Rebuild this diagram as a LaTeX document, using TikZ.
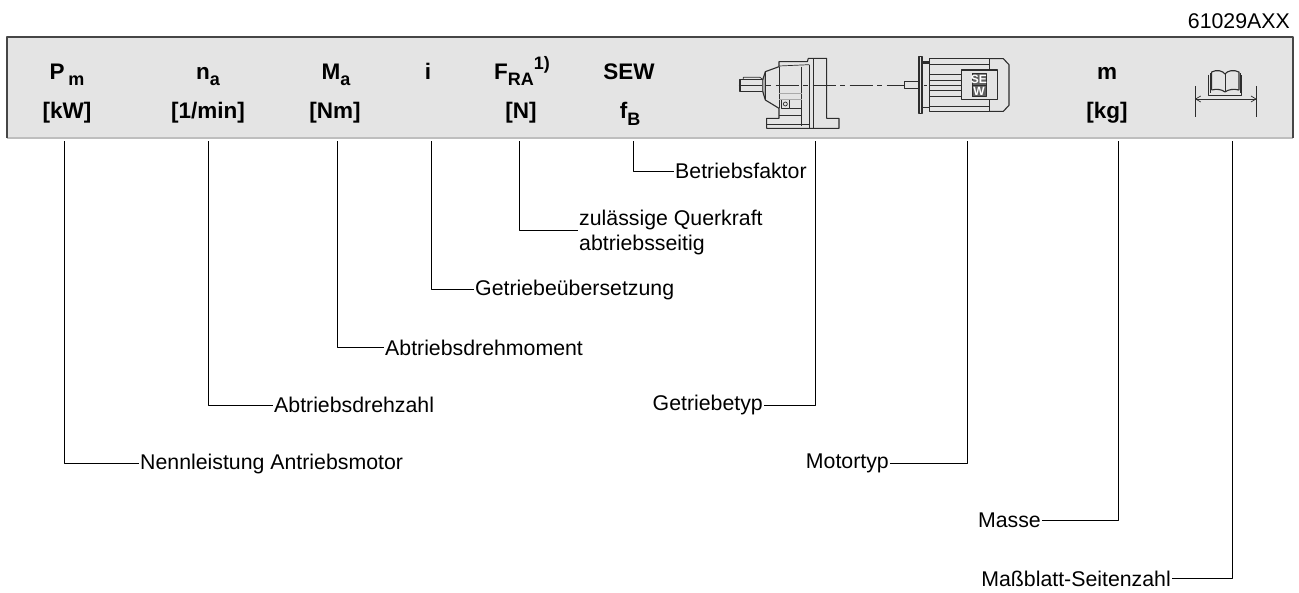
\documentclass[tikz,border=0pt]{standalone}
\usepackage{fontspec}
\setmainfont{Liberation Sans}
\usetikzlibrary{arrows.meta}
\definecolor{bandgrey}{RGB}{228,228,228}
\definecolor{edgedark}{RGB}{70,70,70}
\definecolor{edgelight}{RGB}{190,190,190}
\definecolor{inkgrey}{RGB}{45,45,45}
\definecolor{logogrey}{RGB}{170,170,170}
\newcommand{\hdsub}[1]{\raisebox{-0.31em}{\fontsize{18}{18}\selectfont #1}}
\begin{document}
\begin{tikzpicture}[x=1pt, y=-1pt, line join=bevel]

    \tikzset{
      hd_text/.style    = {inner sep=0pt, font=\fontsize{22.5}{26}\selectfont\bfseries, anchor=base},
      lbl_text/.style   = {inner sep=1pt, font=\fontsize{21.3}{25.5}\selectfont, align=left},
      leader/.style     = {line width=1pt, draw=black},
      part_line/.style  = {line width=1.1pt, draw=inkgrey},
      thin_line/.style  = {line width=0.7pt, draw=inkgrey}
    }

    \useasboundingbox (0,0) rectangle (1299,592);

    % band
    \fill[bandgrey] (7,37) rectangle (1293,138);
    \draw[line width=1.5pt, edgelight] (7,138) -- (1293,138);
    \draw[line width=1.5pt, edgedark] (7,138) -- (7,37) -- (1293,37) -- (1293,138);

    \node[lbl_text, anchor=base east, inner sep=0pt] (code) at (1290,28) {61029AXX};

    % header
    \node[hd_text] (hdPm)  at (67,79)   {P\,\hdsub{m}};
    \node[hd_text] (hdkW)  at (67,118.5)  {[kW]};
    \node[hd_text] (hdna)  at (208,79)  {n\hdsub{a}};
    \node[hd_text] (hdmin) at (208,118.5) {[1/min]};
    \node[hd_text] (hdMa)  at (336,79)  {M\hdsub{a}};
    \node[hd_text] (hdNm)  at (335,118.5) {[Nm]};
    \node[hd_text] (hdi)   at (428,79)  {i};
    \node[hd_text] (hdF)   at (522,79)  {F\hdsub{RA}\raisebox{0.42em}{\fontsize{18}{18}\selectfont 1)}};
    \node[hd_text] (hdN)   at (521,118.5) {[N]};
    \node[hd_text] (hdSEW) at (629,79)  {SEW};
    \node[hd_text] (hdfB)  at (630,118.5) {f\hdsub{B}};
    \node[hd_text] (hdm)   at (1107,79) {m};
    \node[hd_text] (hdkg)  at (1107,118.5){[kg]};

    % gear unit
    \begin{scope}[shift={(720,30)}, x=0.3333pt, y=-0.3333pt]
        \draw[part_line] (60,148) -- (60,184) -- (128,184) -- (128,148) -- cycle;
        \draw[thin_line] (70,148) -- (70,142) -- (120,142) -- (128,148);
        \fill[logogrey] (128,150) -- (136,125) -- (136,208) -- (128,184) -- cycle;
        \draw[part_line] (128,150) -- (136,125) -- (177,110) -- (177,95) -- (262,95) -- (265,85) -- (320,85)
            -- (320,265) -- (357,265) -- (357,295) -- (140,295) -- (140,265) -- (177,265) -- (177,235)
            -- (136,210) -- (128,184);
        \draw[thin_line] (136,125) -- (136,210);
        \draw[thin_line] (177,110) -- (177,235);
        \draw[thin_line] (245,110) -- (245,288);
        \draw[thin_line] (177,108) -- (268,104);
        \draw[part_line] (268,104) -- (268,295);
        \draw[part_line] (280,85) -- (280,295);
        \draw[part_line, logogrey] (177,190) -- (245,190);
        \draw[part_line, logogrey] (177,208) -- (245,208);
        \draw[thin_line] (210,236) -- (245,236);
        \draw[part_line] (177,256) -- (245,256);
        \draw[thin_line] (140,284) -- (268,284);
        \draw[thin_line] (184,210) -- (184,236) -- (208,236) -- (208,210);
        \draw[thin_line] (196,222) circle (6);

        % centre line
        \draw[thin_line, dash pattern=on 23pt off 4.5pt on 5pt off 4.5pt] (56,165) -- (553,165);

        % motor
        \fill[bandgrey] (597,80) rectangle (606,250);
        \draw[part_line] (597,80) rectangle (606,250);
        \draw[part_line] (553,155) rectangle (597,176);
        \draw[part_line] (606,96) -- (628,96) -- (628,244) -- (808,244) -- (808,86) -- (628,86) -- (628,96);
        \draw[part_line] (808,86) -- (850,86) -- (867,104) -- (867,226) -- (850,244) -- (808,244);
        \draw[thin_line] (606,100) -- (628,100);
        \draw[thin_line] (606,232) -- (628,232);
        \draw[thin_line] (628,102) -- (808,102);
        \draw[thin_line] (628,228) -- (808,228);
        \foreach \yline in {132,150,182,200}{
            \draw[thin_line] (628,\yline) -- (724,\yline);
        }
        \draw[thin_line] (628,165) -- (724,165);
        \draw[thin_line] (612,165) -- (622,165);
        \fill[bandgrey] (724,120) rectangle (833,209);
        \draw[part_line] (724,120) rectangle (833,209);
        \draw[thin_line, fill=inkgrey!75] (756,130) rectangle (798,200);
        \draw[thin_line] (756,166) -- (798,166);
        \node[inner sep=0pt, font=\fontsize{12}{12}\selectfont\bfseries, text=white] (logo1) at (777,148) {SE};
        \node[inner sep=0pt, font=\fontsize{12}{12}\selectfont\bfseries, text=white] (logo2) at (777,184) {W};
    \end{scope}

    % book symbol
    \begin{scope}[shift={(1040,0)}, x=0.3333pt, y=-0.3333pt]
        \draw[thin_line] (505,224) -- (505,287) -- (605,287) -- (605,224);
        \draw[thin_line] (510,278) -- (510,220);
        \draw[thin_line] (600,278) -- (600,220);
        \draw[part_line] (515,270) -- (515,216) .. controls (530,208) and (548,212) .. (555,222)
            .. controls (562,212) and (582,208) .. (597,216) -- (597,270)
            .. controls (582,266) and (565,268) .. (555,276)
            .. controls (545,268) and (530,266) .. (515,270);
        \draw[thin_line] (555,222) -- (555,276);
        \draw[thin_line] (465,258) -- (465,350);
        \draw[thin_line] (650,258) -- (650,350);
        \draw[thin_line, {Straight Barb[length=5pt,width=6pt]}-{Straight Barb[length=5pt,width=6pt]}] (465,297) -- (650,297);
    \end{scope}

    % labels
    \node[lbl_text, anchor=west] (lblPm)  at (139,463.5) {Nennleistung Antriebsmotor};
    \node[lbl_text, anchor=west] (lblna)  at (273,405) {Abtriebsdrehzahl};
    \node[lbl_text, anchor=west] (lblMa)  at (384,347.5) {Abtriebsdrehmoment};
    \node[lbl_text, anchor=west] (lbli)   at (474,289.5) {Getriebeübersetzung};
    \node[lbl_text, anchor=west] (lblF)   at (578,232.5) {zulässige Querkraft\\abtriebsseitig};
    \node[lbl_text, anchor=west] (lblfB)  at (674,171) {Betriebsfaktor};
    \node[lbl_text, anchor=east] (lblGt)  at (764,405) {Getriebetyp};
    \node[lbl_text, anchor=east] (lblMt)  at (890,463.5) {Motortyp};
    \node[lbl_text, anchor=east] (lblm)   at (1042,520.5) {Masse};
    \node[lbl_text, anchor=east] (lblMb)  at (1172,578.5) {Maßblatt-Seitenzahl};

    % leaders
    \foreach \tapx/\target in {
        64/lblPm, 208/lblna, 337/lblMa, 431/lbli, 633/lblfB,
        815/lblGt, 967/lblMt, 1118/lblm, 1232/lblMb%
    }{
        \coordinate (tap\target) at (\tapx,141);
        \draw[leader] (tap\target) |- (\target);
    }
    \coordinate (taplblF) at (519,141);
    \draw[leader] (taplblF) |- ([yshift=2.5pt]lblF.west);

\end{tikzpicture}
\end{document}
